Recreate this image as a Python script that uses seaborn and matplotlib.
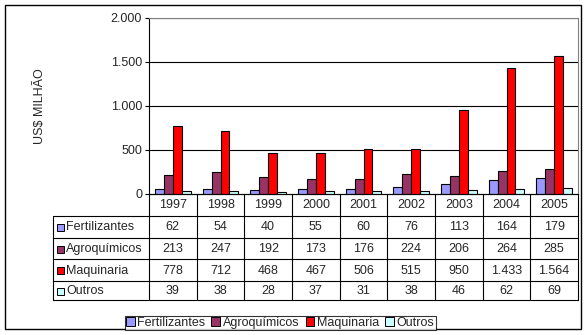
import matplotlib
matplotlib.use("Agg")
import matplotlib.pyplot as plt
from matplotlib.patches import Rectangle, Patch
from matplotlib.lines import Line2D
import seaborn as sns
import pandas as pd

anos = ["1997", "1998", "1999", "2000", "2001", "2002", "2003", "2004", "2005"]
categorias = ["Fertilizantes", "Agroquímicos", "Maquinaria", "Outros"]
fertilizantes = [62, 54, 40, 55, 60, 76, 113, 164, 179]
agroquimicos = [213, 247, 192, 173, 176, 224, 206, 264, 285]
maquinaria = [778, 712, 468, 467, 506, 515, 950, 1433, 1564]
outros = [39, 38, 28, 37, 31, 38, 46, 62, 69]
cores = ["#9999FF", "#993366", "#FF0000", "#CCFFFF"]
y_ticks = [0, 500, 1000, 1500, 2000]

series = [fertilizantes, agroquimicos, maquinaria, outros]
rows = []
for cat, vals in zip(categorias, series):
    for a, v in zip(anos, vals):
        rows.append({"Ano": a, "Valor": v, "Categoria": cat})
df = pd.DataFrame(rows)

def fmt(v):
    return f"{v:,}".replace(",", ".")

sns.set_style("white")
plt.rcParams["font.family"] = ["Liberation Sans", "DejaVu Sans"]
FS = 9

W, H = 586, 335
fig = plt.figure(figsize=(W / 100, H / 100), dpi=100)

L, R, T, B = 149, 578, 18, 194
ax = fig.add_axes([L / W, 1 - B / H, (R - L) / W, (B - T) / H])
sns.barplot(data=df, x="Ano", y="Valor", hue="Categoria", order=anos,
            hue_order=categorias, palette=cores, width=0.75, gap=0,
            edgecolor="black", linewidth=0.8, saturation=1, ax=ax, legend=False)
ax.set_xlim(-0.5, len(anos) - 0.5)
ax.set_ylim(0, 2000)
ax.set_yticks(y_ticks)
ax.set_yticklabels([fmt(t) for t in y_ticks], fontsize=FS)
ax.set_xticks([])
ax.set_xlabel("")
ax.set_ylabel("")
ax.set_axisbelow(True)
ax.yaxis.grid(True, color="black", linewidth=0.8)
ax.tick_params(axis="y", direction="out", length=3, width=0.8, color="black", pad=2, left=True)
for s in ["left", "bottom"]:
    ax.spines[s].set_color("black")
    ax.spines[s].set_linewidth(0.8)
for s in ["top", "right"]:
    ax.spines[s].set_color("#808080")
    ax.spines[s].set_linewidth(0.8)

fig.text(40 / W, 1 - 106 / H, "US$ MILHÃO", rotation=90, ha="center", va="center", fontsize=FS)

# overlay in pixel coordinates for table, frame
ov = fig.add_axes([0, 0, 1, 1], zorder=-1)
ov.set_xlim(0, W)
ov.set_ylim(H, 0)
ov.axis("off")
ov.patch.set_alpha(0)

ov.add_patch(Rectangle((5, 5), 576, 324, fill=False, edgecolor="black", linewidth=1))

lw = 0.8
colw = (R - L) / len(anos)
row_y = [194, 216, 237.7, 259.3, 281, 300]
lab_x = 53
# horizontal lines
ov.plot([L, R], [row_y[0], row_y[0]], color="black", lw=lw)
for y in row_y[1:]:
    ov.plot([lab_x, R], [y, y], color="black", lw=lw)
# vertical lines
ov.plot([lab_x, lab_x], [row_y[1], row_y[-1]], color="black", lw=lw)
for k in range(len(anos) + 1):
    x = L + k * colw
    ov.plot([x, x], [row_y[0], row_y[-1]], color="black", lw=lw)

for k, a in enumerate(anos):
    ov.text(L + (k + 0.5) * colw, (row_y[0] + row_y[1]) / 2 + 0.5, a,
            ha="center", va="center", fontsize=FS)
for i, (cat, vals, c) in enumerate(zip(categorias, series, cores)):
    yc = (row_y[i + 1] + row_y[i + 2]) / 2 + 0.5
    ov.add_patch(Rectangle((57, yc - 3.5), 7, 7, facecolor=c, edgecolor="black", linewidth=0.7))
    ov.text(66, yc, cat, ha="left", va="center", fontsize=FS)
    for k, v in enumerate(vals):
        ov.text(L + (k + 0.5) * colw, yc, fmt(v), ha="center", va="center", fontsize=FS)

handles = [Patch(facecolor=c, edgecolor="black", linewidth=0.7) for c in cores]
leg = fig.legend(handles, categorias, loc="center", bbox_to_anchor=(280 / W, 1 - 323 / H),
                 ncol=4, fontsize=FS, frameon=True, fancybox=False, edgecolor="black",
                 borderpad=0.1, handlelength=0.7, handleheight=0.7, handletextpad=0.2,
                 columnspacing=0.5, borderaxespad=0)
leg.get_frame().set_linewidth(0.8)

fig.savefig("out.png", dpi=100, facecolor="white")
